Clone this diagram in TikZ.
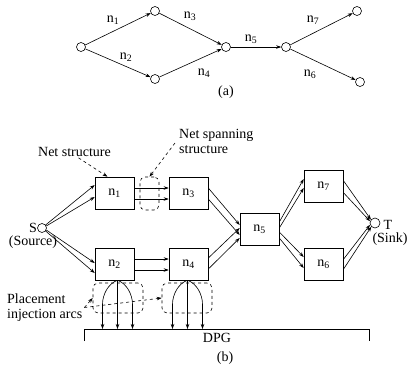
\documentclass[tikz,border=0pt]{standalone}
\usepackage{fontspec}
\setmainfont{Liberation Serif}
\usetikzlibrary{arrows.meta,calc}
\newcommand{\nsub}[1]{n\textsubscript{#1}}
\tikzset{
  vtx/.style={circle,draw,line width=.6pt,inner sep=0pt,minimum size=9pt},
  blk/.style={draw,line width=.6pt,minimum width=39pt,minimum height=32pt,inner sep=0pt},
  arr/.style={-{Stealth[length=5pt,width=3.5pt]},line width=.6pt},
  note/.style={-{Stealth[length=5pt,width=3.5pt]},dashed,line width=.6pt},
  grp/.style={draw,dashed,line width=.6pt,rounded corners=5pt,inner sep=0pt},
  lbl/.style={inner sep=0pt},
}

\begin{document}
\begin{tikzpicture}[x=1pt,y=-1pt,font=\fontsize{14}{15}\selectfont]
  \useasboundingbox (0,0) rectangle (407,368);
  % (a) the net as a graph
  \node[vtx] (v1) at (81,47) {};
  \node[vtx] (v2) at (155,11) {};
  \node[vtx] (v3) at (155,79) {};
  \node[vtx] (v4) at (226,47) {};
  \node[vtx] (v5) at (286,47) {};
  \node[vtx] (v6) at (357,11) {};
  \node[vtx] (v7) at (360,82) {};
  \foreach \s/\t in {v1/v2,v1/v3,v2/v4,v3/v4,v4/v5,v5/v6,v5/v7}
    \draw[arr] (\s) -- (\t);
  \node[lbl] (e1) at (113,20) {\nsub{1}};
  \node[lbl] (e2) at (126,57) {\nsub{2}};
  \node[lbl] (e3) at (190,16) {\nsub{3}};
  \node[lbl] (e4) at (204,73) {\nsub{4}};
  \node[lbl] (e5) at (251,39) {\nsub{5}};
  \node[lbl] (e7) at (313,20) {\nsub{7}};
  \node[lbl] (e6) at (310,74) {\nsub{6}};
  \node[lbl] (capa) at (226,92) {(a)};

  % (b) net structures between source and sink
  \node[blk] (n1) at (114.5,193) {\nsub{1}};
  \node[blk] (n3) at (188.5,193) {\nsub{3}};
  \node[blk] (n2) at (114.5,264) {\nsub{2}};
  \node[blk] (n4) at (188.5,264) {\nsub{4}};
  \node[blk] (n5) at (259.5,229) {\nsub{5}};
  \node[blk] (n7) at (323.5,186.5) {\nsub{7}};
  \node[blk] (n6) at (323.5,264.5) {\nsub{6}};
  \node[vtx] (S) at (42,228) {};
  \node[vtx,minimum size=10pt] (T) at (375,223) {};
  \node[lbl] (slbl) at (33,228) {S};
  \node[lbl] (srclbl) at (33,242.5) {(Source)};
  \node[lbl] (tlbl) at (388,225) {T};
  \node[lbl] (snklbl) at (390,239.5) {(Sink)};

  \draw[arr] (S.40) -- ([yshift=8pt]n1.west);
  \draw[arr] (S.25) -- ([yshift=-4pt]n1.west);
  \draw[arr] (S.-25) -- ([yshift=1pt]n2.west);
  \draw[arr] (S.-40) -- ([yshift=-9pt]n2.west);
  \foreach \d in {5,-6}{
    \draw[arr] ([yshift=\d pt]n1.east) -- ([yshift=\d pt]n3.west);
    \draw[arr] ([yshift=\d pt]n2.east) -- ([yshift=\d pt]n4.west);
  }
  \draw[arr] ([yshift=5pt]n3.east) -- ([yshift=4pt]n5.west);
  \draw[arr] ([yshift=-6pt]n3.east) -- ([yshift=-6pt]n5.west);
  \draw[arr] ([yshift=6pt]n4.east) -- ([yshift=1pt]n5.west);
  \draw[arr] ([yshift=-5pt]n4.east) -- ([yshift=-9pt]n5.west);
  \draw[arr] ([yshift=7pt]n5.east) -- ([yshift=7.5pt]n7.west);
  \draw[arr] ([yshift=1pt]n5.east) -- ([yshift=-1.5pt]n7.west);
  \draw[arr] ([yshift=-3pt]n5.east) -- ([yshift=7.5pt]n6.west);
  \draw[arr] ([yshift=-9pt]n5.east) -- ([yshift=-3.5pt]n6.west);
  \draw[arr] ([yshift=6pt]n7.east) -- (T.140);
  \draw[arr] ([yshift=-6pt]n7.east) -- (T.160);
  \draw[arr] ([yshift=5pt]n6.east) -- (T.-160);
  \draw[arr] ([yshift=-5pt]n6.east) -- (T.-135);

  % DPG and placement injection arcs
  \coordinate (dpgtop) at (0,329);
  \draw[line width=.6pt] (84,341) -- (84,329) -- (369,329) -- (369,341);
  \node[lbl] (dpg) at (217,338) {DPG};
  \foreach \b/\dx in {n2/3,n4/-1}{
    \coordinate (top\b) at ([xshift=\dx pt]\b.south);
    \draw[arr] (top\b) -- (top\b |- dpgtop);
    \draw[arr] (top\b) .. controls +(-9,3) and +(0,-10) .. ($(top\b)+(-15,24)$)
      -- ($(top\b |- dpgtop)+(-15,0)$);
    \draw[arr] (top\b) .. controls +(9,3) and +(0,-10) .. ($(top\b)+(15,24)$)
      -- ($(top\b |- dpgtop)+(15,0)$);
  }
  \node[lbl] (capb) at (225,358) {(b)};

  % dashed groupings and their notes
  \node[grp,minimum width=19pt,minimum height=33pt] (span) at (149.5,193.5) {};
  \node[grp,minimum width=50pt,minimum height=30pt] (inj2) at (118,298) {};
  \node[grp,minimum width=50pt,minimum height=30pt] (inj4) at (187,298) {};
  \node[lbl] (netlbl) at (74.5,152) {Net structure};
  \node[lbl,anchor=west,align=left] (spanlbl) at (179,141.5) {Net spanning\\structure};
  \node[lbl,anchor=west,align=left] (plcl) at (7,307.5) {Placement\\injection arcs};
  \draw[note] ([xshift=4pt,yshift=-1pt]netlbl.south) -- ([xshift=-7pt]n1.north);
  \draw[note] ([xshift=-4pt,yshift=-1.5pt]spanlbl.west) -- (span.north);
  \draw[note] ([xshift=2pt]plcl.east) -- (inj2.west);
  \draw[note] ([xshift=2pt]plcl.east) -- (inj4.west);
\end{tikzpicture}
\end{document}
